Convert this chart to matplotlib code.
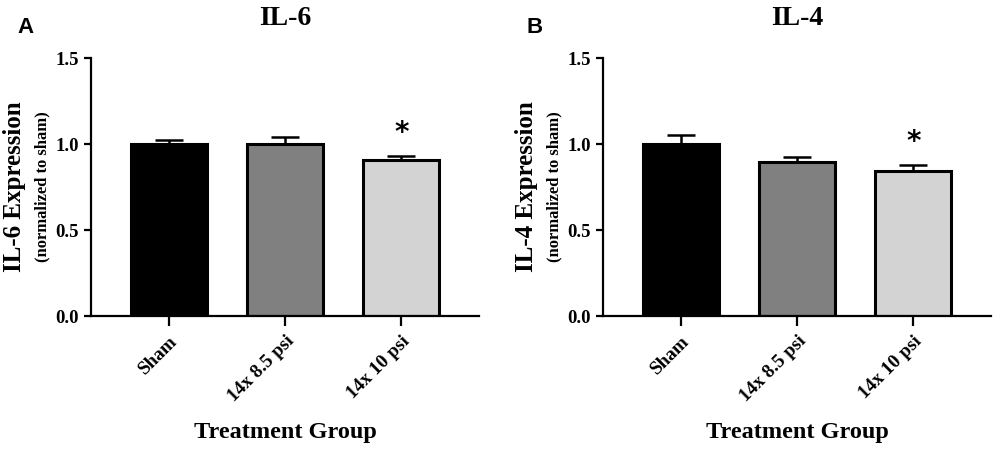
import matplotlib
matplotlib.use("Agg")
import matplotlib.pyplot as plt
import numpy as np

groups = ["Sham", "14x 8.5 psi", "14x 10 psi"]
il6_mean = [1.00, 1.00, 0.91]
il6_err = [0.022, 0.038, 0.019]
il4_mean = [1.00, 0.895, 0.845]
il4_err = [0.054, 0.029, 0.031]
bar_colors = ["#000000", "#808080", "#d3d3d3"]
yticks = [0.0, 0.5, 1.0, 1.5]
sig = ["", "", "*"]

serif = ["Liberation Serif", "DejaVu Serif"]

fig = plt.figure(figsize=(10, 4.51), dpi=100)

def panel(left, mean, err, title, ylab, letter, letter_x):
    ax = fig.add_axes([left, 0.2993, 0.388, 0.572])
    x = np.arange(len(groups))
    ax.bar(x, mean, width=0.65, color=bar_colors, edgecolor="black", linewidth=2.2, zorder=2)
    ax.errorbar(x, mean, yerr=[np.zeros(len(err)), err], fmt="none", ecolor="black",
                elinewidth=1.8, capsize=10, capthick=1.8, zorder=1)
    for xi, m, e, s in zip(x, mean, err, sig):
        if s:
            ax.text(xi, m + e + 0.055, s, ha="center", va="bottom", fontsize=20,
                    fontweight="bold", family=["DejaVu Sans"])
    ax.set_xlim(-0.672, 2.67)
    ax.set_ylim(0, 1.5)
    ax.set_yticks(yticks)
    ax.set_yticklabels([f"{v:.1f}" for v in yticks], family=serif, fontweight="bold", fontsize=13.5)
    ax.set_xticks(x)
    ax.set_xticklabels(groups, rotation=45, ha="right", rotation_mode="anchor",
                       family=serif, fontweight="bold", fontsize=13.8)
    for sp in ["top", "right"]:
        ax.spines[sp].set_visible(False)
    for sp in ["left", "bottom"]:
        ax.spines[sp].set_linewidth(1.6)
    ax.tick_params(axis="y", length=5, width=1.6)
    ax.tick_params(axis="x", length=7, width=1.6, pad=5)
    ax.text(0.5, 1.0 + 33 / 258, title, transform=ax.transAxes, ha="center", va="baseline",
            family=serif, fontweight="bold", fontsize=20)
    ax.text(0.5, -116 / 258, "Treatment Group", transform=ax.transAxes, ha="center", va="center",
            family=serif, fontweight="bold", fontsize=17.5)
    ax.text(-0.198, 0.5, ylab, transform=ax.transAxes, rotation=90, ha="center", va="center",
            family=serif, fontweight="bold", fontsize=18)
    ax.text(-0.124, 0.5, "(normalized to sham)", transform=ax.transAxes, rotation=90,
            ha="center", va="center", family=serif, fontweight="bold", fontsize=12)
    fig.text(letter_x, 0.938, letter, family=["Liberation Sans", "DejaVu Sans"], fontweight="bold",
             fontsize=16, ha="left", va="center")
    return ax

panel(0.091, il6_mean, il6_err, "IL-6", "IL-6 Expression", "A", 0.017)
panel(0.603, il4_mean, il4_err, "IL-4", "IL-4 Expression", "B", 0.527)

fig.savefig("out.png", dpi=100)
